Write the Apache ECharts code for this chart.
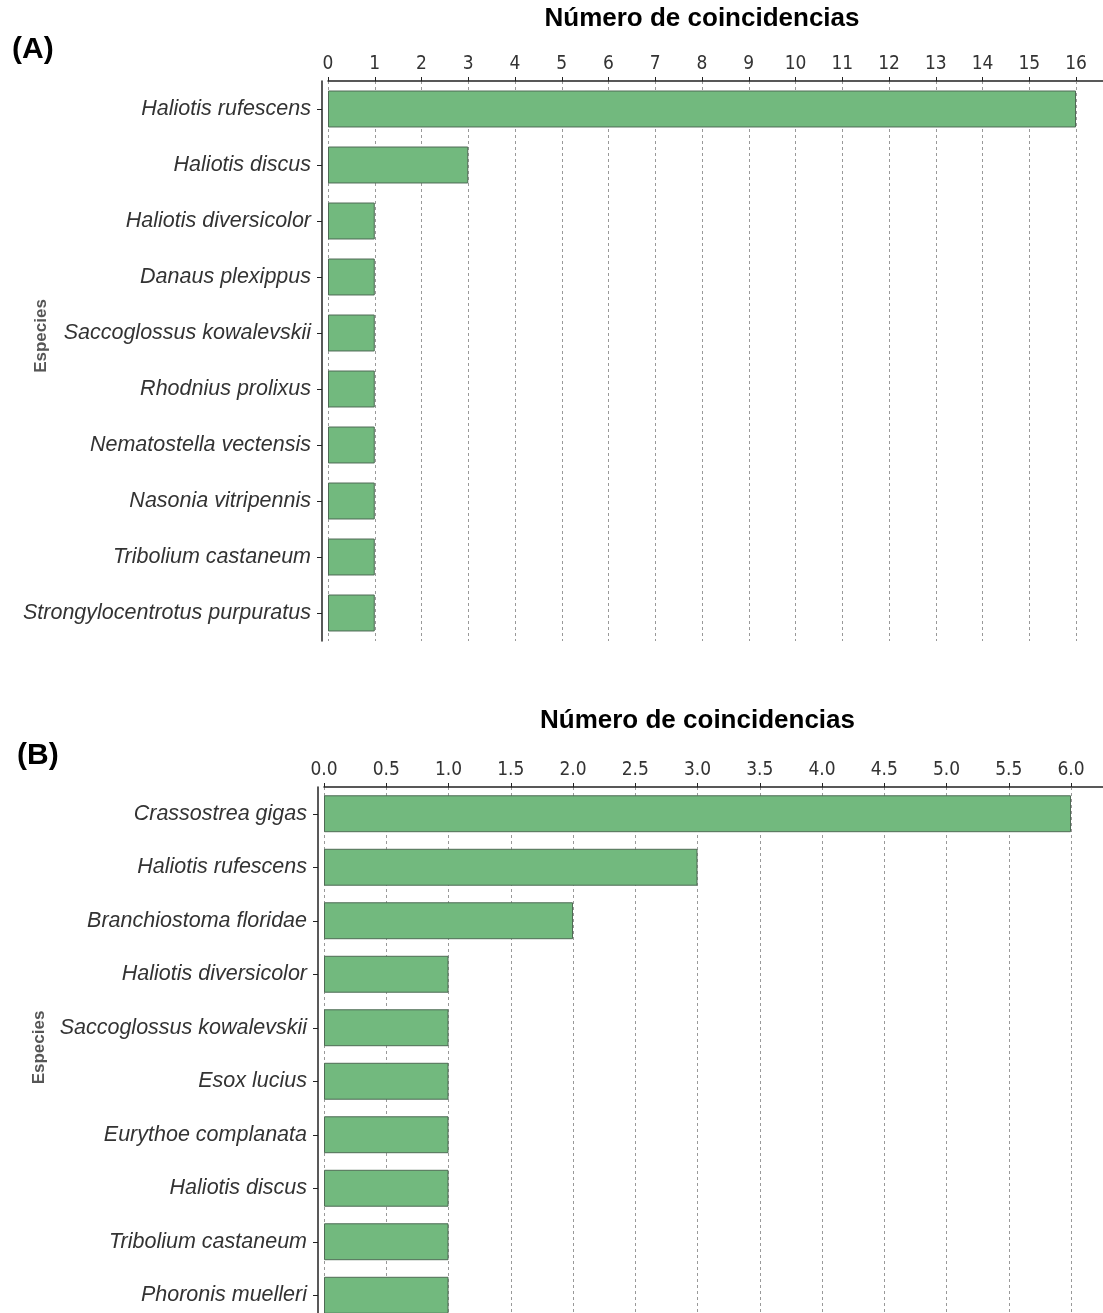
<!DOCTYPE html>
<html>
<head>
<meta charset="utf-8">
<script src="https://cdn.jsdelivr.net/npm/echarts@6/dist/echarts.min.js"></script>
<style>
  html, body { margin: 0; padding: 0; background: #fff; }
  #chart { width: 1103px; height: 1313px; }
</style>
</head>
<body>
<div id="chart"></div>
<script>
// (A) especies y número de coincidencias
const speciesA = [
  "Haliotis rufescens",
  "Haliotis discus",
  "Haliotis diversicolor",
  "Danaus plexippus",
  "Saccoglossus kowalevskii",
  "Rhodnius prolixus",
  "Nematostella vectensis",
  "Nasonia vitripennis",
  "Tribolium castaneum",
  "Strongylocentrotus purpuratus",
];
const countsA = [16, 3, 1, 1, 1, 1, 1, 1, 1, 1];

// (B) especies y número de coincidencias
const speciesB = [
  "Crassostrea gigas",
  "Haliotis rufescens",
  "Branchiostoma floridae",
  "Haliotis diversicolor",
  "Saccoglossus kowalevskii",
  "Esox lucius",
  "Eurythoe complanata",
  "Haliotis discus",
  "Tribolium castaneum",
  "Phoronis muelleri",
];
const countsB = [6, 3, 2, 1, 1, 1, 1, 1, 1, 1];

const axisName = "Número de coincidencias";
const yName = "Especies";

const font = "Liberation Sans, Arial, sans-serif";
const narrow = "Liberation Sans Narrow, Arial Narrow, DejaVu Sans Condensed, sans-serif";
const barColor = "#72b97e";

const makeX = (gridIndex, max, interval, fmt, gap) => ({
  gridIndex: gridIndex,
  type: "value",
  position: "top",
  min: 0,
  max: max,
  interval: interval,
  name: axisName,
  nameLocation: "middle",
  nameGap: gap,
  nameTextStyle: { fontFamily: font, fontSize: 26, fontWeight: "bold", color: "#000" },
  axisLine: { show: true, lineStyle: { color: "#222", width: 1.5 } },
  axisTick: { show: true, length: 4, lineStyle: { color: "#222" } },
  axisLabel: {
    fontFamily: narrow,
    fontSize: 19,
    color: "#333",
    margin: 7,
    formatter: fmt,
  },
  splitLine: { show: true, lineStyle: { color: "#999", type: [3, 3], width: 1 } },
});

const makeY = (gridIndex, data, gap, shift) => ({
  gridIndex: gridIndex,
  type: "category",
  data: data,
  inverse: true,
  offset: 6,
  name: yName,
  nameLocation: "middle",
  nameGap: gap,
  nameRotate: 90,
  nameMoveOverlap: false,
  nameTextStyle: {
    fontFamily: font,
    fontSize: 17,
    fontWeight: "bold",
    color: "#555",
    padding: [0, 0, 0, shift],
  },
  axisLine: { show: true, onZero: false, lineStyle: { color: "#222", width: 1.5 } },
  axisTick: { show: true, length: 5, alignWithLabel: true, lineStyle: { color: "#222" } },
  axisLabel: {
    fontFamily: font,
    fontSize: 21.5,
    fontStyle: "italic",
    color: "#333",
    margin: 11,
  },
  splitLine: { show: false },
});

const chart = echarts.init(document.getElementById("chart"));
const option = {
  animation: false,
  title: [
    { text: "(A)", left: 7, top: 30, textStyle: { fontFamily: font, fontSize: 30, fontWeight: "bold", color: "#000" } },
    { text: "(B)", left: 12, top: 736, textStyle: { fontFamily: font, fontSize: 30, fontWeight: "bold", color: "#000" } },
  ],
  grid: [
    { left: 328, top: 81, width: 748, height: 560, outerBoundsMode: "none" },
    { left: 324, top: 787, width: 747, height: 535, outerBoundsMode: "none" },
  ],
  xAxis: [
    makeX(0, 16, 1, (v) => String(v), 49),
    makeX(1, 6, 0.5, (v) => v.toFixed(1), 53),
  ],
  yAxis: [makeY(0, speciesA, 272, 50), makeY(1, speciesB, 270, 14)],
  series: [
    {
      type: "bar",
      xAxisIndex: 0,
      yAxisIndex: 0,
      data: countsA,
      barCategoryGap: "34%",
      itemStyle: { color: barColor, borderColor: "#4f6b55", borderWidth: 1 },
    },
    {
      type: "bar",
      xAxisIndex: 1,
      yAxisIndex: 1,
      data: countsB,
      barCategoryGap: "31%",
      itemStyle: { color: barColor, borderColor: "#4f6b55", borderWidth: 1 },
    },
  ],
  // eje superior continúa hasta el borde derecho
  graphic: [
    { type: "line", shape: { x1: 1076, y1: 81, x2: 1103, y2: 81 }, style: { stroke: "#222", lineWidth: 1.5 } },
    { type: "line", shape: { x1: 1071, y1: 787, x2: 1103, y2: 787 }, style: { stroke: "#222", lineWidth: 1.5 } },
  ],
};
chart.setOption(option);
</script>
</body>
</html>
